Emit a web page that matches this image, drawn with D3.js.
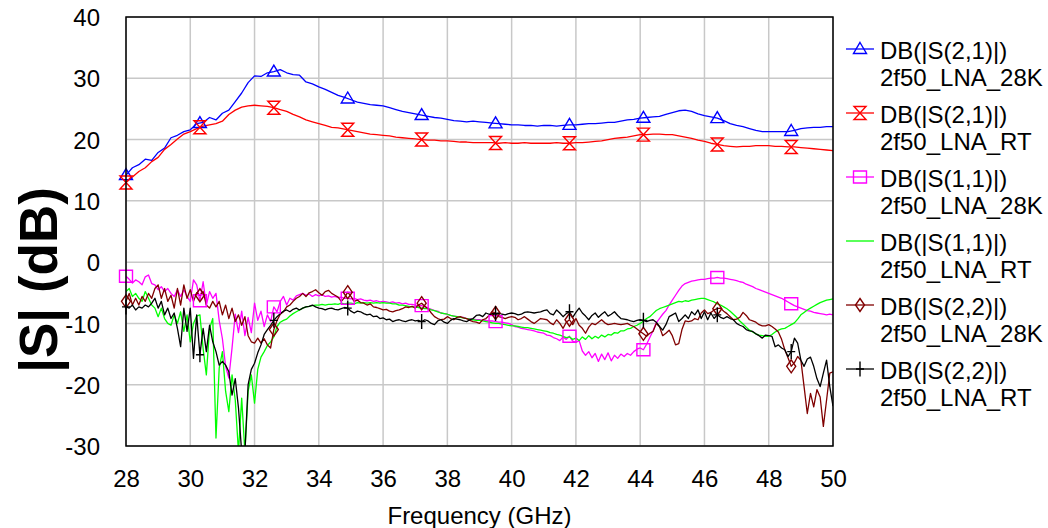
<!DOCTYPE html>
<html>
<head>
<meta charset="utf-8">
<script src="https://cdn.jsdelivr.net/npm/d3@7"></script>
<style>
  body { margin: 0; background: #fff; }
  svg { display: block; font-family: "Liberation Sans", Arial, Helvetica, sans-serif; }
</style>
</head>
<body>
<svg id="chart" width="1048" height="528"></svg>
<script>
// Frequency grids (GHz): gain traces sampled every 0.2 GHz, reflection traces every 0.1 GHz
const freqGain = d3.range(111).map(i => +(28 + i * 0.2).toFixed(1));
const freqRefl = d3.range(221).map(i => +(28 + i * 0.1).toFixed(1));

// DB(|S(2,1)|) 2f50_LNA_28K
const s21Cold = [
  14.2, 15.4, 15.9, 16.8, 16.6, 17.9, 18.6, 20.3, 20.7, 21.3,
  21.6, 22.6, 22.8, 23.6, 23.2, 24.3, 24.8, 26.2, 27.6, 29.3,
  30.4, 30.3, 30.9, 31.1, 31.4, 30.9, 30.6, 30.5, 29.4, 29.1,
  28.6, 28.2, 27.7, 27.2, 26.9, 26.5, 26.1, 25.9, 25.7, 25.6,
  25.5, 25.2, 24.9, 24.6, 24.4, 24.2, 24.0, 23.8, 23.6, 23.5,
  23.3, 23.1, 23.0, 22.9, 23.0, 22.9, 22.8, 22.7, 22.6, 22.5,
  22.4, 22.4, 22.3, 22.3, 22.2, 22.3, 22.3, 22.2, 22.3, 22.4,
  22.4, 22.5, 22.6, 22.6, 22.7, 22.8, 22.8, 23.0, 23.2, 23.3,
  23.5, 23.6, 23.7, 23.8, 24.1, 24.4, 24.7, 24.8, 24.6, 24.2,
  23.9, 23.7, 23.5, 23.1, 22.6, 22.3, 22.1, 21.8, 21.5, 21.3,
  21.3, 21.3, 21.3, 21.3, 21.5, 21.8, 21.9, 22.0, 22.0, 22.1,
  22.1
];

// DB(|S(2,1)|) 2f50_LNA_RT
const s21Room = [
  13.0, 13.9, 14.8, 15.4, 16.4, 17.1, 18.4, 19.2, 20.1, 20.9,
  21.3, 21.8, 22.2, 22.4, 22.6, 23.0, 24.1, 24.8, 25.3, 25.5,
  25.6, 25.5, 25.4, 25.2, 24.9, 24.6, 24.1, 23.7, 23.2, 22.9,
  22.6, 22.3, 22.0, 21.9, 21.7, 21.5, 21.3, 21.1, 20.9, 20.8,
  20.7, 20.6, 20.4, 20.3, 20.2, 20.1, 20.0, 19.9, 19.9, 19.8,
  19.8, 19.7, 19.6, 19.6, 19.5, 19.5, 19.5, 19.5, 19.4, 19.5,
  19.4, 19.4, 19.5, 19.4, 19.4, 19.4, 19.4, 19.5, 19.4, 19.4,
  19.5, 19.5, 19.6, 19.7, 19.8, 20.0, 20.2, 20.3, 20.4, 20.6,
  20.8, 20.8, 20.9, 20.9, 20.8, 20.8, 20.6, 20.4, 20.2, 19.9,
  19.7, 19.4, 19.2, 19.0, 18.9, 18.8, 18.9, 18.9, 19.0, 19.0,
  19.0, 18.9, 18.9, 18.8, 18.8, 18.7, 18.6, 18.5, 18.4, 18.3,
  18.2
];

// DB(|S(1,1)|) 2f50_LNA_28K
const s11Cold = [
  -2.3, -2.8, -3.4, -2.9, -3.2, -3.7, -2.4, -2.1, -3.5, -3.7,
  -4.5, -4.0, -4.8, -4.3, -5.1, -5.6, -4.5, -5.6, -4.5, -5.6,
  -6.4, -2.9, -3.7, -6.3, -3.2, -7.0, -4.8, -5.9, -5.1, -9.5,
  -12.5, -17.0, -18.9, -14.0, -8.5, -11.5, -8.0, -12.0, -9.0, -11.5,
  -6.7, -9.5, -8.0, -10.5, -8.6, -9.7, -7.3, -8.1, -6.4, -5.6,
  -7.0, -5.9, -6.2, -5.5, -5.3, -5.1, -5.4, -5.2, -5.6, -5.3,
  -5.5, -5.3, -5.6, -5.5, -5.7, -5.6, -5.8, -5.7, -5.9, -5.9,
  -6.0, -5.9, -6.1, -6.0, -6.2, -6.3, -6.2, -6.4, -6.3, -6.5,
  -6.4, -6.5, -6.6, -6.5, -6.7, -6.6, -6.8, -6.7, -6.9, -6.9,
  -7.0, -7.1, -7.1, -7.3, -7.5, -7.7, -7.9, -8.0, -8.3, -8.4,
  -8.5, -8.7, -8.8, -8.9, -9.0, -9.0, -9.2, -9.2, -9.3, -9.4,
  -9.4, -9.5, -9.5, -9.6, -9.6, -9.7, -9.8, -9.8, -9.9, -10.0,
  -10.2, -10.5, -10.6, -10.8, -10.9, -11.0, -11.1, -11.2, -11.4, -11.5,
  -11.6, -11.9, -12.0, -12.3, -12.5, -12.8, -12.2, -12.6, -12.1, -12.9,
  -13.1, -12.8, -14.5, -15.2, -14.6, -15.6, -14.9, -16.2, -15.0, -15.9,
  -14.8, -16.1, -15.2, -15.7, -15.0, -15.4, -14.9, -15.2, -14.6, -14.2,
  -14.0, -14.3, -13.4, -12.3, -11.2, -9.9, -9.2, -8.5, -7.9, -7.0,
  -6.2, -5.4, -4.6, -3.9, -3.5, -3.3, -3.1, -3.0, -2.9, -2.8,
  -2.8, -2.7, -2.6, -2.6, -2.5, -2.6, -2.6, -2.7, -2.8, -2.9,
  -3.0, -3.2, -3.3, -3.6, -3.8, -4.0, -4.3, -4.5, -4.7, -4.9,
  -5.1, -5.3, -5.5, -5.7, -5.9, -6.2, -6.5, -6.8, -7.1, -7.3,
  -7.5, -7.7, -7.9, -8.0, -8.2, -8.3, -8.4, -8.5, -8.6, -8.5,
  -8.6
];

// DB(|S(1,1)|) 2f50_LNA_RT
const s11Room = [
  -4.8, -4.3, -5.6, -5.1, -5.9, -6.4, -4.8, -5.9, -7.0, -7.5,
  -8.9, -7.5, -9.2, -10.0, -10.3, -8.6, -10.0, -8.1, -11.3, -8.6,
  -13.0, -10.0, -8.8, -8.6, -14.1, -18.4, -10.8, -9.2, -28.7, -17.3,
  -14.6, -21.1, -24.4, -18.4, -22.5, -31.0, -22.2, -31.0, -21.1, -18.4,
  -23.0, -17.5, -15.5, -14.6, -13.6, -13.0, -12.2, -10.5, -9.8, -9.5,
  -9.3, -8.8, -8.4, -8.1, -7.8, -7.5, -7.3, -7.2, -7.1, -7.0,
  -7.0, -6.9, -7.0, -6.9, -6.9, -6.8, -6.9, -6.7, -6.8, -6.7,
  -6.7, -6.8, -6.6, -6.7, -6.6, -6.7, -6.6, -6.7, -6.6, -6.7,
  -6.6, -6.7, -6.7, -6.8, -6.8, -7.0, -7.0, -7.1, -7.2, -7.3,
  -7.3, -7.4, -7.5, -7.6, -7.6, -7.8, -7.9, -8.1, -8.3, -8.4,
  -8.5, -8.7, -8.8, -8.9, -9.0, -9.1, -9.2, -9.3, -9.4, -9.5,
  -9.5, -9.6, -9.7, -9.8, -9.9, -10.0, -10.0, -10.1, -10.2, -10.3,
  -10.4, -10.4, -10.5, -10.6, -10.7, -10.7, -10.8, -10.9, -11.0, -11.1,
  -11.2, -11.3, -11.5, -11.6, -11.8, -11.9, -12.1, -12.3, -12.2, -12.6,
  -12.4, -12.8, -12.2, -12.6, -12.0, -12.5, -12.1, -12.4, -11.9, -12.2,
  -11.8, -11.9, -11.5, -11.6, -11.2, -11.2, -10.9, -10.8, -10.5, -10.3,
  -10.0, -9.6, -9.2, -8.9, -8.4, -7.9, -7.6, -7.4, -7.2, -7.0,
  -6.8, -6.6, -6.4, -6.5, -6.3, -6.4, -6.2, -6.1, -6.0, -5.9,
  -5.9, -6.1, -6.3, -6.5, -6.8, -7.0, -7.3, -7.6, -8.0, -8.5,
  -9.0, -9.6, -10.1, -10.6, -11.1, -11.4, -11.7, -11.9, -12.0, -12.1,
  -12.1, -11.8, -11.4, -11.1, -10.9, -10.8, -10.5, -10.2, -9.9, -9.3,
  -8.6, -8.2, -7.8, -7.5, -7.2, -6.9, -6.6, -6.4, -6.2, -6.1,
  -6.0
];

// DB(|S(2,2)|) 2f50_LNA_28K
const s22Cold = [
  -6.4, -5.1, -7.0, -5.9, -7.0, -5.6, -6.4, -5.1, -5.9, -4.3,
  -3.7, -5.9, -4.3, -6.4, -5.4, -7.5, -4.3, -7.0, -3.7, -5.9,
  -4.5, -6.4, -5.0, -5.4, -4.8, -7.0, -7.5, -6.4, -7.3, -6.4,
  -8.6, -7.0, -9.2, -7.5, -9.7, -8.6, -10.3, -8.9, -12.0, -13.0,
  -13.2, -12.4, -13.2, -12.5, -13.5, -14.0, -11.0, -9.5, -8.5, -8.1,
  -7.3, -7.0, -6.4, -5.9, -5.6, -5.1, -5.6, -5.0, -4.8, -4.5,
  -5.0, -5.4, -4.8, -4.6, -5.1, -5.4, -5.7, -6.4, -5.8, -4.9,
  -5.6, -6.4, -6.2, -6.6, -6.7, -7.0, -6.8, -7.3, -7.4, -7.6,
  -7.8, -7.7, -8.0, -8.1, -7.9, -7.8, -7.6, -7.3, -7.4, -7.2,
  -7.5, -7.0, -6.7, -7.2, -7.6, -8.3, -8.9, -9.2, -9.4, -9.3,
  -8.9, -9.2, -9.4, -9.0, -8.9, -9.1, -9.2, -9.5, -9.7, -9.8,
  -10.0, -9.4, -9.2, -8.7, -8.1, -8.3, -8.9, -9.0, -9.2, -9.0,
  -8.9, -9.0, -9.4, -9.2, -8.9, -9.3, -9.7, -10.0, -9.6, -9.2,
  -9.3, -9.4, -9.9, -10.2, -9.4, -10.0, -10.8, -9.8, -9.4, -10.2,
  -9.2, -10.3, -10.8, -11.6, -10.6, -10.0, -10.2, -9.8, -9.4, -9.9,
  -10.2, -10.1, -10.0, -10.1, -10.2, -10.1, -10.0, -10.3, -10.5, -10.9,
  -11.3, -11.7, -12.1, -11.6, -11.3, -10.0, -10.5, -12.0, -11.6, -11.1,
  -12.0, -13.5, -13.3, -11.0, -9.6, -9.7, -9.6, -9.2, -9.4, -8.3,
  -7.8, -8.4, -8.2, -7.8, -7.6, -7.5, -8.0, -8.4, -8.9, -9.4,
  -9.3, -9.0, -8.2, -8.7, -9.4, -9.6, -9.8, -10.2, -10.4, -10.4,
  -10.2, -10.5, -10.9, -11.4, -12.6, -14.3, -15.6, -17.0, -16.4, -15.4,
  -16.0, -20.3, -24.7, -21.4, -23.6, -20.8, -22.0, -26.8, -22.5, -18.1,
  -17.9
];

// DB(|S(2,2)|) 2f50_LNA_RT
const s22Room = [
  -7.3, -7.5, -7.0, -7.8, -7.3, -7.5, -7.0, -7.3, -6.7, -5.9,
  -7.5, -6.4, -8.6, -7.5, -9.2, -8.3, -10.8, -13.8, -7.5, -11.3,
  -7.5, -15.7, -8.6, -15.1, -10.8, -14.6, -10.3, -13.0, -14.6, -16.8,
  -16.2, -16.8, -17.9, -21.7, -19.0, -23.8, -31.0, -31.0, -20.0, -17.5,
  -16.5, -14.8, -13.5, -11.8, -11.0, -10.3, -9.5, -8.9, -8.4, -8.0,
  -7.8, -8.1, -7.7, -7.5, -7.8, -7.5, -7.3, -7.2, -7.0, -7.3,
  -7.5, -7.6, -7.8, -7.6, -7.5, -7.7, -7.8, -7.6, -7.4, -7.5,
  -8.0, -8.3, -8.0, -8.1, -8.4, -8.6, -8.5, -8.9, -8.8, -9.2,
  -9.1, -9.4, -9.3, -9.7, -9.5, -9.4, -9.6, -9.7, -9.5, -9.4,
  -9.6, -9.5, -9.7, -9.4, -9.6, -10.0, -10.2, -9.6, -9.4, -9.8,
  -10.0, -9.5, -9.2, -9.3, -9.4, -9.6, -9.7, -9.4, -9.2, -8.7,
  -8.6, -8.9, -8.3, -8.5, -8.6, -8.4, -8.3, -8.5, -8.6, -8.4,
  -8.3, -8.4, -8.6, -8.5, -8.2, -8.1, -8.2, -8.3, -8.2, -8.1,
  -7.9, -7.8, -8.4, -8.6, -7.8, -8.3, -8.9, -8.4, -8.1, -9.0,
  -8.2, -7.5, -8.3, -8.8, -9.4, -8.7, -8.3, -9.0, -8.5, -8.1,
  -8.8, -8.5, -8.1, -8.7, -9.2, -9.3, -9.4, -9.6, -9.7, -9.5,
  -9.4, -9.5, -9.7, -9.5, -9.4, -9.8, -10.5, -11.1, -10.2, -8.9,
  -8.6, -8.3, -9.7, -9.2, -8.6, -9.2, -8.1, -8.6, -7.8, -9.2,
  -8.1, -9.4, -8.3, -9.2, -8.6, -9.0, -9.2, -8.9, -9.2, -9.4,
  -10.0, -10.3, -10.5, -11.0, -11.2, -11.3, -11.7, -12.0, -12.4, -11.9,
  -12.0, -12.1, -13.8, -13.5, -14.0, -14.3, -15.4, -14.6, -12.4, -13.2,
  -16.0, -17.0, -15.8, -15.5, -17.0, -19.0, -20.3, -18.1, -16.0, -20.3,
  -23.5
];

// Axis ticks and labels
const xTicks = [28, 30, 32, 34, 36, 38, 40, 42, 44, 46, 48, 50];
const yTicks = [40, 30, 20, 10, 0, -10, -20, -30];
const xTitle = "Frequency (GHz)";
const yTitle = "|S| (dB)";

// Frequencies where trace symbols are placed
const markerFreqs = [28.0, 30.3, 32.6, 34.9, 37.2, 39.5, 41.8, 44.1, 46.4, 48.7];

// Legend text
const legendTop = ["DB(|S(2,1)|)", "DB(|S(2,1)|)", "DB(|S(1,1)|)", "DB(|S(1,1)|)", "DB(|S(2,2)|)", "DB(|S(2,2)|)"];
const legendBottom = ["2f50_LNA_28K", "2f50_LNA_RT", "2f50_LNA_28K", "2f50_LNA_RT", "2f50_LNA_28K", "2f50_LNA_RT"];

// Symbol outlines, centred on the data point
const symbolPaths = {
  triangle: "M0,-6.5L6.5,4.5L-6.5,4.5Z",
  hourglass: "M-6,-6.5L6,-6.5L-6,6.5L6,6.5Z",
  square: "M-6.5,-6H6.5V6H-6.5Z",
  diamond: "M0,-6.5L4.5,0L0,6.5L-4.5,0Z",
  plus: "M0,-7.5V7.5M-4,0H4",
  none: null
};

const traces = [
  { freq: freqGain, values: s21Cold, color: "#0000ff", symbol: "triangle" },
  { freq: freqGain, values: s21Room, color: "#ff0000", symbol: "hourglass" },
  { freq: freqRefl, values: s11Cold, color: "#ff00ff", symbol: "square" },
  { freq: freqRefl, values: s11Room, color: "#00ff00", symbol: "none" },
  { freq: freqRefl, values: s22Cold, color: "#800000", symbol: "diamond" },
  { freq: freqRefl, values: s22Room, color: "#000000", symbol: "plus" }
];

const FONT = "'Liberation Sans', Arial, Helvetica, sans-serif";
const svg = d3.select("#chart");
const plot = { left: 126, top: 17, right: 833, bottom: 446 };

const x = d3.scaleLinear().domain([28, 50]).range([plot.left, plot.right]);
const y = d3.scaleLinear().domain([-30, 40]).range([plot.bottom, plot.top]);

svg.append("defs").append("clipPath").attr("id", "plotClip")
  .append("rect")
  .attr("x", plot.left).attr("y", plot.top)
  .attr("width", plot.right - plot.left).attr("height", plot.bottom - plot.top);

// Grid
const grid = svg.append("g").attr("stroke", "#c8c8c8").attr("stroke-width", 1.5);
grid.selectAll("line.v").data(xTicks).join("line")
  .attr("x1", d => x(d)).attr("x2", d => x(d))
  .attr("y1", plot.top).attr("y2", plot.bottom);
grid.selectAll("line.h").data(yTicks).join("line")
  .attr("x1", plot.left).attr("x2", plot.right)
  .attr("y1", d => y(d)).attr("y2", d => y(d));

// Axes: labels only, the frame is drawn separately
const plainNumber = d => String(d);
const xAxis = d3.axisBottom(x).tickValues(xTicks).tickFormat(plainNumber).tickSize(0).tickPadding(0);
svg.append("g").attr("transform", `translate(0,${plot.bottom})`).call(xAxis)
  .call(g => g.select(".domain").remove())
  .call(g => g.selectAll("text")
    .attr("y", 41).attr("dy", 0)
    .attr("font-size", 24).attr("font-family", FONT)
    .attr("fill", "#000"));

const yAxis = d3.axisLeft(y).tickValues(yTicks).tickFormat(plainNumber).tickSize(0).tickPadding(0);
svg.append("g").attr("transform", `translate(${plot.left},0)`).call(yAxis)
  .call(g => g.select(".domain").remove())
  .call(g => g.selectAll("text")
    .attr("x", -26).attr("dy", "0.36em")
    .attr("font-size", 24).attr("font-family", FONT)
    .attr("fill", "#000"));

// Traces
const traceLayer = svg.append("g").attr("clip-path", "url(#plotClip)");
traces.forEach(t => {
  const pts = t.freq.map((f, i) => [f, t.values[i]]);
  traceLayer.append("path")
    .attr("d", d3.line().x(d => x(d[0])).y(d => y(d[1]))(pts))
    .attr("fill", "none")
    .attr("stroke", t.color)
    .attr("stroke-width", 1.3)
    .attr("stroke-linejoin", "round");
});

// Symbols along each trace
function valueAt(t, f) {
  const i = d3.bisector(d => d).left(t.freq, f);
  if (i <= 0) return t.values[0];
  if (i >= t.freq.length) return t.values[t.values.length - 1];
  const f0 = t.freq[i - 1], f1 = t.freq[i];
  const k = (f - f0) / (f1 - f0);
  return t.values[i - 1] + k * (t.values[i] - t.values[i - 1]);
}
traces.forEach(t => {
  if (!symbolPaths[t.symbol]) return;
  svg.append("g").selectAll("path").data(markerFreqs).join("path")
    .attr("transform", f => `translate(${x(f)},${y(Math.max(-30, valueAt(t, f)))})`)
    .attr("d", symbolPaths[t.symbol])
    .attr("fill", "none")
    .attr("stroke", t.color)
    .attr("stroke-width", 1.4);
});

// Frame
svg.append("rect")
  .attr("x", plot.left).attr("y", plot.top)
  .attr("width", plot.right - plot.left).attr("height", plot.bottom - plot.top)
  .attr("fill", "none").attr("stroke", "#000").attr("stroke-width", 1.5);

// Axis titles
svg.append("text")
  .attr("x", (plot.left + plot.right) / 2).attr("y", 524)
  .attr("text-anchor", "middle").attr("font-size", 24)
  .text(xTitle);

svg.append("text")
  .attr("transform", "translate(57,280) rotate(-90)")
  .attr("text-anchor", "middle").attr("font-size", 53).attr("font-weight", "bold")
  .text(yTitle);

// Legend
const legend = svg.append("g");
traces.forEach((t, i) => {
  const ly = 49 + i * 64;
  const g = legend.append("g");
  g.append("line")
    .attr("x1", 846).attr("x2", 874).attr("y1", ly).attr("y2", ly)
    .attr("stroke", t.color).attr("stroke-width", 1.3);
  if (symbolPaths[t.symbol]) {
    g.append("path")
      .attr("transform", `translate(860,${ly})`)
      .attr("d", symbolPaths[t.symbol])
      .attr("fill", "none").attr("stroke", t.color).attr("stroke-width", 1.4);
  }
  g.append("text").attr("x", 880).attr("y", ly + 10).attr("font-size", 24).text(legendTop[i]);
  g.append("text").attr("x", 880).attr("y", ly + 37).attr("font-size", 24).text(legendBottom[i]);
});
</script>
</body>
</html>
